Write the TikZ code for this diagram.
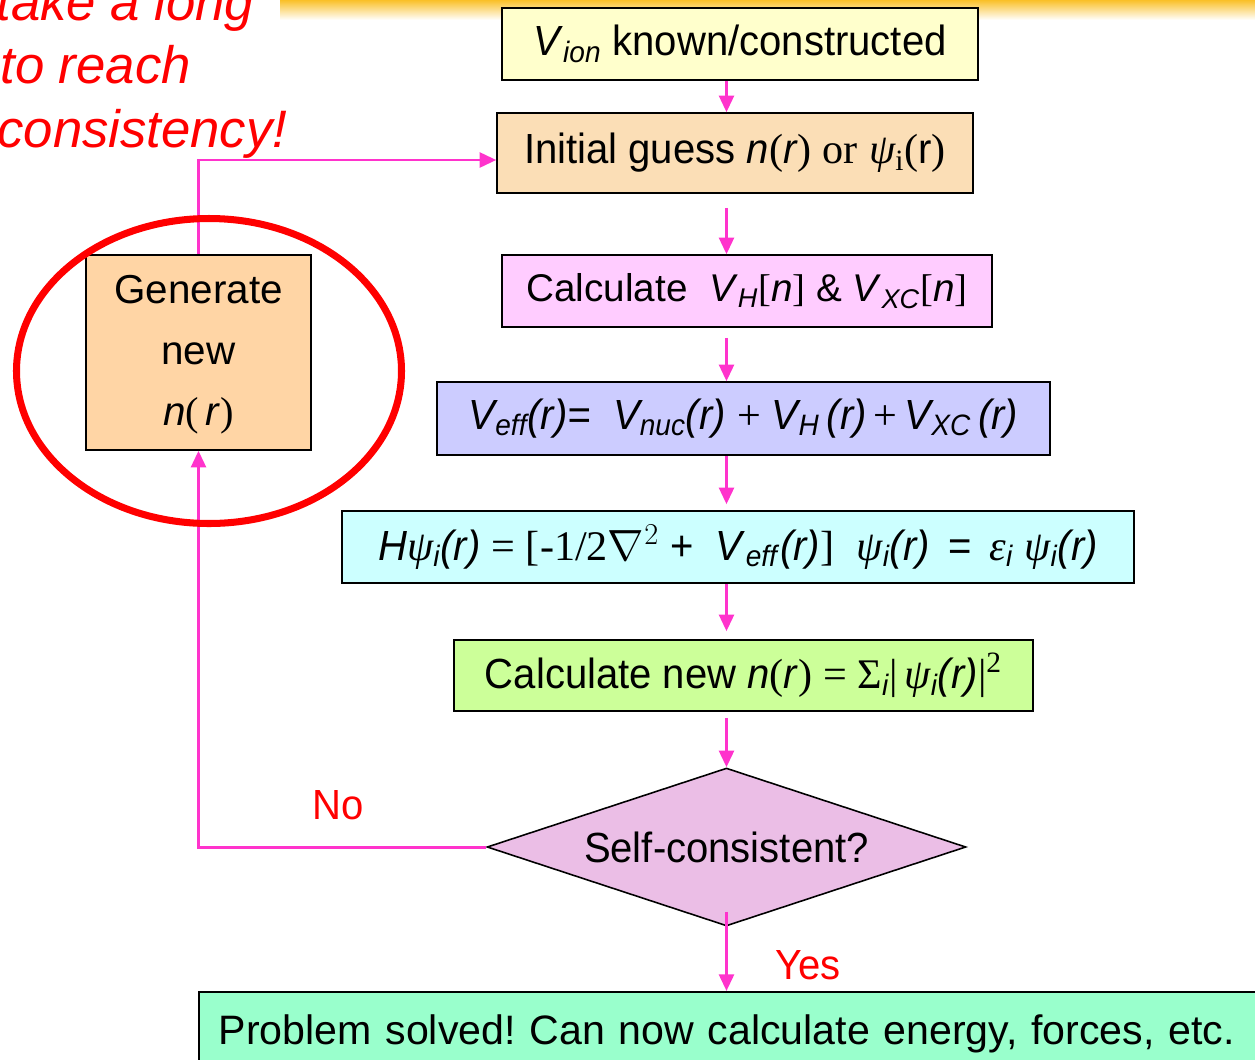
\documentclass[tikz,border=0pt]{standalone}
\usepackage{fontspec}
\setmainfont{Liberation Sans}
\newfontfamily\narrowsf[FakeStretch=0.95]{Liberation Sans}
\newfontfamily\tms{Liberation Serif}
\usetikzlibrary{arrows.meta,positioning,calc,shapes.geometric}
\definecolor{flowpink}{RGB}{255,51,204}
\definecolor{vionyellow}{RGB}{255,255,204}
\definecolor{guessorange}{RGB}{251,222,182}
\definecolor{calcpink}{RGB}{255,204,255}
\definecolor{vefflav}{RGB}{204,204,255}
\definecolor{kscyan}{RGB}{204,255,255}
\definecolor{densgreen}{RGB}{204,255,153}
\definecolor{diapink}{RGB}{235,190,230}
\definecolor{donemint}{RGB}{153,255,204}
\definecolor{genpeach}{RGB}{255,213,165}
\definecolor{notered}{RGB}{255,0,0}
\definecolor{barorange}{RGB}{250,192,40}
\frenchspacing

\begin{document}
\begin{tikzpicture}[x=0.02cm, y=-0.02cm]
  \tikzset{
    flow/.style={-{Triangle[length=9.5pt,width=8.5pt]}, line width=1.7pt, draw=flowpink},
    stepbox/.style={draw, line width=0.9pt, inner sep=0pt, align=center},
    narrowtxt/.style={font=\narrowsf\fontsize{24}{28}\selectfont},
    widetxt/.style={font=\fontsize{22}{26}\selectfont},
    answer/.style={text=notered, font=\narrowsf\fontsize{24}{28}\selectfont},
    remark/.style={anchor=base west, inner sep=0pt, text=notered, font=\itshape\fontsize{30}{34}\selectfont}
  }
  \useasboundingbox (0,0) rectangle (1255,1059);

  % Top bar
  \shade[top color=barorange, bottom color=white] (280,0) rectangle (1255,20);

  % Main nodes
  \node[stepbox, narrowtxt, fill=vionyellow, minimum width=9.52cm, minimum height=1.44cm] (vion) at (740,44)
    {\textit{V}\textsubscript{\textit{ion}} known/constructed};
  \node[stepbox, narrowtxt, fill=guessorange, minimum width=9.52cm, minimum height=1.6cm] (guess) at (735,153)
    {Initial guess \textit{n}{\tms(}\textit{r}{\tms)} {\tms or} {\tms\itshape ψ}{\tms\textsubscript{i}(}r{\tms)}};
  \node[stepbox, widetxt, fill=calcpink, minimum width=9.8cm, minimum height=1.44cm] (calc) at (747,291)
    {Calculate \ \textit{V}\textsubscript{\textit{H}}{\tms[}\textit{n}{\tms]} \& \textit{V}\textsubscript{\textit{XC}}{\tms[}\textit{n}{\tms]}};
  \node[stepbox, narrowtxt, fill=vefflav, minimum width=12.26cm, minimum height=1.46cm] (veff) at (743.5,418.5)
    {\itshape V\textsubscript{eff}(r)= \ V\textsubscript{nuc}(r) {\tms\upshape +} V\textsubscript{H}\,(r){\tms\upshape\,+\,}V\textsubscript{XC}\,(r)};
  \node[stepbox, narrowtxt, fill=kscyan, minimum width=15.84cm, minimum height=1.44cm] (ks) at (738,547)
    {\textit{H}{\tms\itshape ψ}\textit{\textsubscript{i}(r)} {\tms = [-1/2}$\nabla^2$ + \ \textit{V}\textsubscript{\textit{eff}}\textit{(r)}{\tms]} \ {\tms\itshape ψ}\textit{\textsubscript{i}(r)} \,=\, {\tms\itshape ε}\textit{\textsubscript{i}} {\tms\itshape ψ}\textit{\textsubscript{i}(r)}};
  \node[stepbox, narrowtxt, fill=densgreen, minimum width=11.58cm, minimum height=1.42cm] (dens) at (743.5,675.5)
    {Calculate new \textit{n}{\tms(}\textit{r}{\tms) = Σ}\textit{\textsubscript{i}}{\tms|}\,{\tms\itshape ψ}\textit{\textsubscript{i}(r)}{\tms|\textsuperscript{2}}};
  \node[diamond, draw, line width=0.9pt, inner sep=0pt, fill=diapink, aspect=3.03, minimum width=9.58cm, minimum height=3.16cm,
    narrowtxt] (dia) at (726.5,847) {\raisebox{-0.2cm}{Self-consistent?}};
  \node[stepbox, font=\fontsize{23.4}{27}\selectfont, fill=donemint, minimum width=21.6cm, minimum height=1.7cm, inner xsep=0.4cm,
    text width=20.8cm, align=left, anchor=north west] (done) at (198,991)
    {Problem solved! Can now calculate energy, forces, etc.};
  \node[stepbox, fill=genpeach, minimum width=4.5cm, minimum height=3.9cm,
    font=\fontsize{23}{34.6}\selectfont] (gen) at (198.5,352.5)
    {\raisebox{-0.16cm}{\begin{tabular}{@{}c@{}}Generate\\new\\\textit{n}{\tms(}\,\textit{r}{\tms)}\end{tabular}}};

  % Labels
  \node[answer] (no) at (338,805) {No};
  \node[answer] (yes) at (808,965) {Yes};
  \node[remark] (note1) at (-4,20) {take a long};
  \node[remark] (note2) at (0,83) {to reach};
  \node[remark] (note3) at (-3,147) {consistency!};

  % Flow arrows
  \draw[flow] (vion.south -| dia.north) -- (guess.north -| dia.north);
  \draw[flow, shorten <=0.28cm] (guess.south -| dia.north) -- (calc.north -| dia.north);
  \draw[flow, shorten <=0.2cm] (calc.south -| dia.north) -- (veff.north -| dia.north);
  \draw[flow, shorten >=0.12cm] (veff.south -| dia.north) -- (ks.north -| dia.north);
  \draw[flow, shorten >=0.16cm] (ks.south -| dia.north) -- (dens.north -| dia.north);
  \draw[flow, shorten <=0.12cm] (dens.south -| dia.north) -- (dia.north);
  \draw[flow, shorten <=-0.3cm] (dia.south) -- (done.north -| dia.south);

  % Loop back
  \draw[flow] (dia.west) -| (gen.south);
  \draw[flow] (gen.north) |- ([yshift=-0.14cm]guess.west);

  % Highlight
  \draw[notered, line width=4pt] ($(gen.center)+(10.5,18.5)$) ellipse [x radius=192.5, y radius=152.5];

\end{tikzpicture}
\end{document}
